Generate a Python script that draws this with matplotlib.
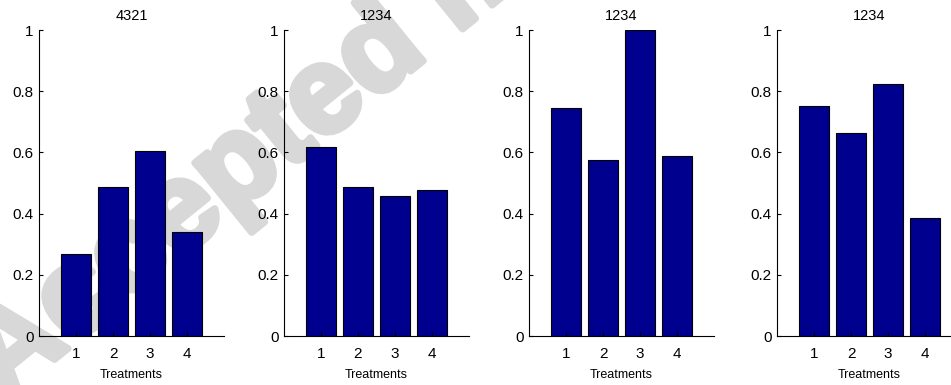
import matplotlib
matplotlib.use("Agg")
import matplotlib.pyplot as plt
import matplotlib.patheffects as pe

plt.rcParams['font.family'] = ['Liberation Sans', 'DejaVu Sans']

# bar heights per panel, treatments 1..4
treatments = [1, 2, 3, 4]
titles = ["4321", "1234", "1234", "1234"]
values_a = [0.267, 0.488, 0.606, 0.339]
values_b = [0.618, 0.488, 0.458, 0.478]
values_c = [0.746, 0.576, 1.000, 0.587]
values_d = [0.752, 0.664, 0.822, 0.385]
yticks = [0, 0.2, 0.4, 0.6, 0.8, 1]
ytick_labels = ["0", "0.2", "0.4", "0.6", "0.8", "1"]

W, H = 951, 385
fig = plt.figure(figsize=(W / 100, H / 100), dpi=100)

# faint watermark behind everything
fig.text(2 / W, 1 - 402 / H, "Accepted manuscript", rotation=39,
         rotation_mode='anchor', ha='left', va='baseline',
         fontsize=88, fontweight='bold', color='#d8d8d8', zorder=-5,
         path_effects=[pe.withStroke(linewidth=5, foreground='#d8d8d8')])

lefts = [39, 284, 529, 777]
for left, title, vals in zip(lefts, titles, [values_a, values_b, values_c, values_d]):
    ax = fig.add_axes([left / W, 49 / H, 185 / W, 306 / H])
    ax.patch.set_visible(False)
    ax.bar(treatments, vals, width=0.8, color='#00008f', edgecolor='black', linewidth=0.8)
    ax.set_xlim(0, 5)
    ax.set_ylim(0, 1)
    ax.set_xticks(treatments)
    ax.set_yticks(yticks)
    ax.set_yticklabels(ytick_labels)
    ax.spines['top'].set_visible(False)
    ax.spines['right'].set_visible(False)
    ax.spines['left'].set_linewidth(0.8)
    ax.spines['bottom'].set_linewidth(0.8)
    ax.tick_params(axis='both', direction='in', length=3, width=0.8, labelsize=11)
    ax.tick_params(axis='x', pad=8)
    ax.tick_params(axis='y', pad=4)
    ax.set_title(title, fontsize=10.5, pad=7)
    ax.set_xlabel("Treatments", fontsize=9, labelpad=6)

fig.savefig("out.png", dpi=100)
